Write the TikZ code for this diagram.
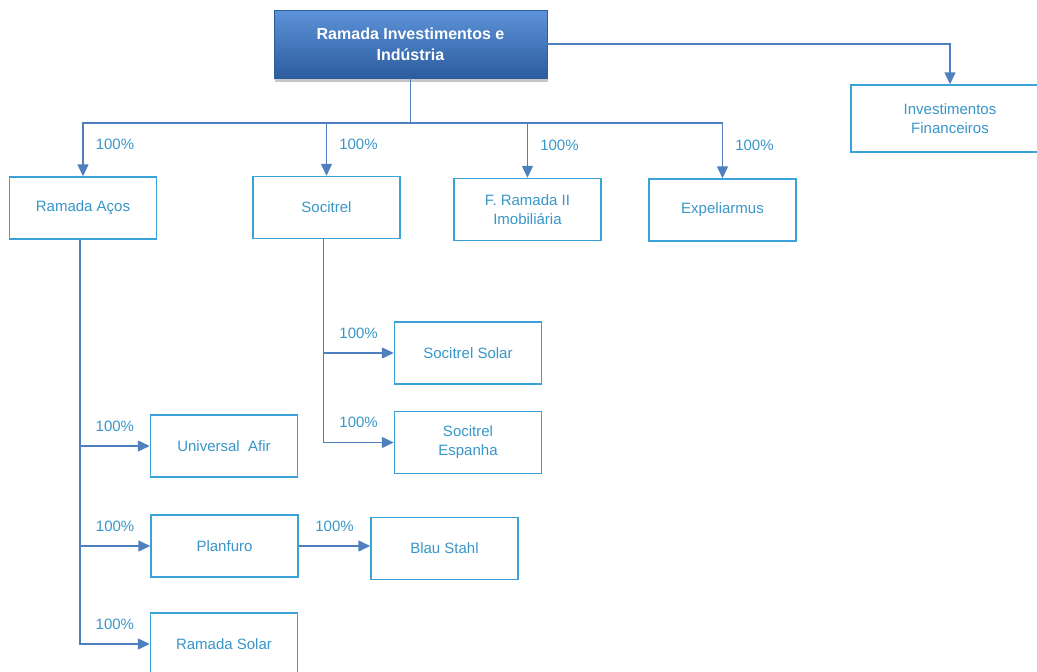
\documentclass[tikz,border=0pt]{standalone}
\usepackage{fontspec}
\setmainfont{Liberation Sans}
\usetikzlibrary{arrows.meta}
\usetikzlibrary{shadows}

\definecolor{linkblue}{HTML}{4F7FBF}
\definecolor{boxblue}{HTML}{3AA2D6}
\definecolor{textblue}{HTML}{3896C8}
\definecolor{headtop}{HTML}{5E93D9}
\definecolor{headbot}{HTML}{2B5C9E}

\tikzset{
  unitbox/.style={draw=boxblue, line width=1.5pt, fill=white, minimum width=147pt,
    minimum height=62pt, align=center, text=textblue, font=\fontsize{15}{19}\selectfont},
  headbox/.style={draw=headbot, line width=0.6pt, top color=headtop, bottom color=headbot,
    minimum width=273pt, minimum height=68pt, align=center, text=white,
    font=\bfseries\fontsize{16}{21}\selectfont,
    drop shadow={shadow xshift=1pt, shadow yshift=-4pt, opacity=0.45}},
  linkline/.style={draw=linkblue, line width=1.5pt},
  linkarrow/.style={linkline, -{Triangle[width=11pt,length=12pt]}},
  pctright/.style={text=textblue, font=\fontsize{15}{18}\selectfont, inner sep=2pt,
    anchor=west, xshift=10pt},
  pctabove/.style={text=textblue, font=\fontsize{15}{18}\selectfont, inner sep=2pt,
    anchor=south, yshift=12pt},
}

\begin{document}
\begin{tikzpicture}[x=1pt, y=-1pt]
  \useasboundingbox (0,0) rectangle (1037,672);
  \clip (0,0) rectangle (1037,672);

  % holding
  \node[headbox] (ramada) at (410.5,44) {Ramada Investimentos e\\Indústria};
  \node[unitbox, minimum width=198pt, minimum height=67pt] (invest) at (950,118.5) {Investimentos\\Financeiros};

  % first level
  \node[unitbox] (aco) at (83,208) {Ramada Aços};
  \node[unitbox] (soc) at (326.5,207.5) {Socitrel};
  \node[unitbox] (imob) at (527.5,209.5) {F. Ramada II\\Imobiliária};
  \node[unitbox] (expel) at (722.5,210) {Expeliarmus};

  % second level
  \node[unitbox] (socsolar) at (468,353) {Socitrel Solar};
  \node[unitbox] (socesp) at (468,442.5) {Socitrel\\Espanha};
  \node[unitbox] (afir) at (224,446) {Universal\ \ Afir};
  \node[unitbox] (planfuro) at (224.5,546) {Planfuro};
  \node[unitbox] (blau) at (444.5,548.5) {Blau Stahl};
  \node[unitbox] (rsolar) at (224,644) {Ramada Solar};

  \coordinate (bus) at (410.5,123);
  \draw[linkline] (ramada.south) -- (bus);
  \draw[linkarrow] (ramada.east) -| (invest);
  \draw[linkarrow] (bus) -| node[pctright, pos=0.7] {100\%} (aco);
  \draw[linkarrow] (bus) -| node[pctright, pos=0.7] {100\%} (soc);
  \draw[linkarrow] (bus) -| node[pctright, pos=0.7] {100\%} (imob);
  \draw[linkarrow] (bus) -| node[pctright, pos=0.7] {100\%} (expel);

  \draw[linkarrow] ([xshift=-3pt]aco.south) |- node[pctabove, pos=0.75] {100\%} (afir);
  \draw[linkarrow] ([xshift=-3pt]aco.south) |- node[pctabove, pos=0.75] {100\%} (planfuro);
  \draw[linkarrow] ([xshift=-3pt]aco.south) |- node[pctabove, pos=0.75] {100\%} (rsolar);
  \draw[linkarrow] ([xshift=-3pt]soc.south) |- node[pctabove, pos=0.75] {100\%} (socsolar);
  \draw[linkarrow] ([xshift=-3pt]soc.south) |- node[pctabove, pos=0.75] {100\%} (socesp);
  \draw[linkarrow] (planfuro.east) -- node[pctabove] {100\%} (planfuro.east -| blau.west);
\end{tikzpicture}
\end{document}
